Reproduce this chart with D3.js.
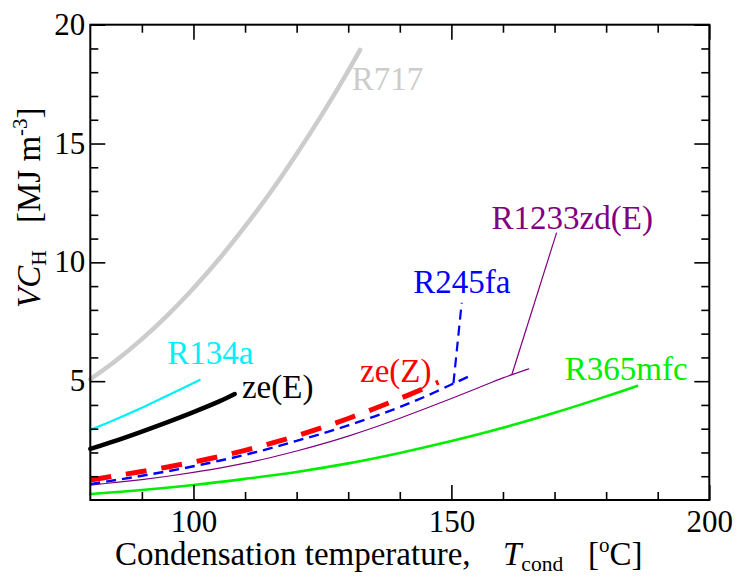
<!DOCTYPE html>
<html><head><meta charset="utf-8">
<script src="https://cdn.jsdelivr.net/npm/d3@7"></script>
<style>
html,body{margin:0;padding:0;background:#fff;}
svg{display:block;}
</style></head>
<body><svg id="c" width="739" height="581"></svg>
<script>
// ---- data ----
const tR717 = [80,85,90,95,100,105,110,115,120,125,130,132.3];
const vR717 = [5.08,5.87,6.77,7.78,8.91,10.15,11.51,12.97,14.56,16.25,18.06,18.94];
const tR134a = [80,85,90,95,101.2];
const vR134a = [2.95,3.4,3.88,4.4,5.05];
const tZeE = [80,85,90,95,100,105,108];
const vZeE = [2.15,2.5,2.88,3.28,3.7,4.15,4.46];
const tZeZ = [80,85,90,95,100,105,110,115,120,125,130,135,140,145,147.5];
const vZeZ = [0.84,1.02,1.2,1.39,1.6,1.83,2.09,2.38,2.7,3.05,3.43,3.84,4.27,4.72,4.96];
const tR245fa = [80,85,90,95,100,105,110,115,120,125,130,135,140,145,150,153.3];
const vR245fa = [0.67,0.84,1.02,1.21,1.42,1.65,1.9,2.18,2.49,2.8,3.14,3.51,3.91,4.36,4.86,5.19];
const tR1233 = [80,85,90,95,100,105,110,115,120,125,130,135,140,145,150,155,160,165];
const vR1233 = [0.63,0.74,0.86,1.0,1.16,1.34,1.55,1.79,2.06,2.36,2.69,3.05,3.44,3.85,4.27,4.7,5.14,5.52];
const tR365 = [80,90,100,110,120,130,140,150,160,170,180,186];
const vR365 = [0.25,0.42,0.63,0.89,1.18,1.54,1.98,2.48,3.04,3.67,4.36,4.8];

const xMajorTicks = [100,150,200];
const xMinorTicks = [90,110,120,130,140,160,170,180,190];
const yMajorTicks = [5,10,15,20];
const yMinorTicks = [1,2,3,4,6,7,8,9,11,12,13,14,16,17,18,19];

// leader lines: [fromT, fromV, toT, toV]
const leaderR245fa = [150.4,4.91,152.0,8.3];
const leaderR1233 = [161.7,5.26,170.4,11.25];

// ---- pick an installed serif font ----
function hasFont(f){
  const c=document.createElement('canvas').getContext('2d');
  const s='mmmmmmmmmmlliWWW0123456789RzdE';
  let diff=false;
  for (const g of ['monospace','sans-serif','serif']){
    c.font='72px '+g; const a=c.measureText(s).width;
    c.font='72px "'+f+'", '+g; const b=c.measureText(s).width;
    if (Math.abs(a-b)>0.01) diff=true;
  }
  return diff;
}
const cands=["Liberation Serif","Times New Roman","Tinos","Times","Nimbus Roman","Nimbus Roman No9 L","FreeSerif","DejaVu Serif","Noto Serif","STIX Two Text","Georgia"];
let picked=cands.find(hasFont);
const FONT = picked ? '"'+picked+'", serif' : 'serif';

// ---- layout ----
const svg = d3.select("#c").attr("font-family",FONT);
const x = d3.scaleLinear().domain([80,200]).range([90.3,709.3]);
const y = d3.scaleLinear().domain([0,20]).range([500,24.7]);

const series = [
  {name:"R717", t:tR717, v:vR717, color:"#cccccc", width:4.5, dash:null, lab:[130.7,17.26]},
  {name:"R134a", t:tR134a, v:vR134a, color:"#00f0f8", width:2.2, dash:null, lab:[94.9,5.71]},
  {name:"ze(E)", t:tZeE, v:vZeE, color:"#000000", width:4.5, dash:null, lab:[109.4,4.28]},
  {name:"R365mfc", t:tR365, v:vR365, color:"#00ee00", width:2.6, dash:null, lab:[172.0,5.05]},
  {name:"R1233zd(E)", t:tR1233, v:vR1233, color:"#800080", width:1.2, dash:null, lab:[157.8,11.39], leader:leaderR1233},
  {name:"R245fa", t:tR245fa, v:vR245fa, color:"#0000ff", width:2.4, dash:"10,6", lab:[142.6,8.72], leader:leaderR245fa},
  {name:"ze(Z)", t:tZeZ, v:vZeZ, color:"#ff0000", width:5, dash:"21,15", lab:[132.3,4.98]}
];

const line = d3.line().x(d=>x(d[0])).y(d=>y(d[1])).curve(d3.curveCatmullRom.alpha(0.5));

series.forEach(s=>{
  const pts = s.t.map((t,i)=>[t,s.v[i]]);
  svg.append("path").attr("d",line(pts)).attr("fill","none")
    .attr("stroke",s.color).attr("stroke-width",s.width)
    .attr("stroke-linecap", s.dash? "butt":"round")
    .attr("stroke-dasharray", s.dash);
  if (s.leader){
    svg.append("line").attr("x1",x(s.leader[0])).attr("y1",y(s.leader[1]))
      .attr("x2",x(s.leader[2])).attr("y2",y(s.leader[3]))
      .attr("stroke",s.color).attr("stroke-width", s.name==="R245fa"?2.2:1.2)
      .attr("stroke-dasharray", s.dash);
  }
  svg.append("text").attr("x",x(s.lab[0])).attr("y",y(s.lab[1]))
    .attr("font-family",FONT)
    .attr("fill",s.color).attr("font-size",33).text(s.name);
});

// ---- axes (ticks inward on all four sides) ----
function styleAxis(g){
  g.attr("font-family",FONT);
  g.select(".domain").remove();
  g.selectAll(".tick line").attr("stroke","#000").attr("stroke-width",1.6);
  g.selectAll("text").attr("font-family",FONT)
    .attr("font-size",31).attr("fill","#000");
}
svg.append("g").attr("transform",`translate(0,${y(0)})`)
  .call(d3.axisBottom(x).tickValues(xMinorTicks).tickSize(-8).tickFormat("")).call(styleAxis);
const gxb = svg.append("g").attr("transform",`translate(0,${y(0)})`)
  .call(d3.axisBottom(x).tickValues(xMajorTicks).tickSize(-15).tickFormat(d3.format("d"))).call(styleAxis);
gxb.selectAll("text").attr("y",31.7).attr("dy",0);
svg.append("g").attr("transform",`translate(0,${y(20)})`)
  .call(d3.axisTop(x).tickValues(xMinorTicks).tickSize(-8).tickFormat("")).call(styleAxis);
svg.append("g").attr("transform",`translate(0,${y(20)})`)
  .call(d3.axisTop(x).tickValues(xMajorTicks).tickSize(-15).tickFormat("")).call(styleAxis);

svg.append("g").attr("transform",`translate(${x(80)},0)`)
  .call(d3.axisLeft(y).tickValues(yMinorTicks).tickSize(-8).tickFormat("")).call(styleAxis);
const gyl = svg.append("g").attr("transform",`translate(${x(80)},0)`)
  .call(d3.axisLeft(y).tickValues(yMajorTicks).tickSize(-15).tickFormat(d3.format("d"))).call(styleAxis);
gyl.selectAll("text").attr("x",-5).attr("dy","0.31em");
svg.append("g").attr("transform",`translate(${x(200)},0)`)
  .call(d3.axisRight(y).tickValues(yMinorTicks).tickSize(-8).tickFormat("")).call(styleAxis);
svg.append("g").attr("transform",`translate(${x(200)},0)`)
  .call(d3.axisRight(y).tickValues(yMajorTicks).tickSize(-15).tickFormat("")).call(styleAxis);

// frame
svg.append("rect").attr("x",x(80)).attr("y",y(20)).attr("width",x(200)-x(80)).attr("height",y(0)-y(20))
  .attr("fill","none").attr("stroke","#000").attr("stroke-width",2);

// ---- axis titles ----
svg.append("text").attr("font-family",FONT).attr("x",115).attr("y",565).attr("font-size",33).text("Condensation temperature,");
const tt = svg.append("text").attr("font-family",FONT).attr("x",503).attr("y",565).attr("font-size",33);
tt.append("tspan").attr("font-style","italic").text("T");
tt.append("tspan").attr("font-size",21.5).attr("dy",6).text("cond");
const tu = svg.append("text").attr("font-family",FONT).attr("x",588).attr("y",565).attr("font-size",33);
tu.append("tspan").text("[");
tu.append("tspan").attr("font-size",21).attr("dy",-13).text("o");
tu.append("tspan").attr("dy",13).text("C]");

const yt = svg.append("g").attr("transform","translate(40,308) rotate(-90)");
const yt1 = yt.append("text").attr("font-family",FONT).attr("x",0).attr("y",0).attr("font-size",33);
yt1.append("tspan").attr("font-style","italic").text("VC");
yt1.append("tspan").attr("font-size",21.5).attr("dy",6).text("H");
const yt2 = yt.append("text").attr("font-family",FONT).attr("x",85).attr("y",0).attr("font-size",33);
yt2.append("tspan").text("[MJ m");
yt2.append("tspan").attr("font-size",21).attr("dy",-13).text("-3");
yt2.append("tspan").attr("dy",13).text("]");
</script></body></html>
